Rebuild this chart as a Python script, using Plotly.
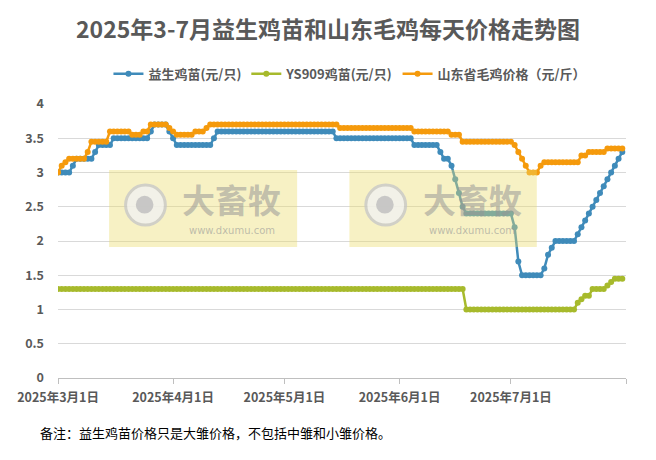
import numpy as np
import pandas as pd
import plotly.graph_objects as go

# daily prices, 2025-03-01 .. 2025-07-31, stored as (value, number of days) runs
blue_vals = [3.0, 3.1, 3.2, 3.3, 3.4, 3.5, 3.6, 3.7, 3.6, 3.5, 3.4, 3.5, 3.6, 3.5, 3.4, 3.3, 3.2, 3.1,
             2.9, 2.7, 2.5, 2.4, 2.2, 1.7, 1.5, 1.6, 1.8, 1.9, 2.0,
             2.1, 2.2, 2.3, 2.4, 2.5, 2.6, 2.7, 2.8, 2.9, 3.0, 3.1, 3.2, 3.3]
blue_days = [4, 1, 5, 1, 4, 10, 1, 4, 1, 1, 10, 1, 32, 21, 7, 1, 2, 1,
             1, 1, 1, 13, 1, 1, 6, 1, 1, 1, 6,
             1, 1, 1, 1, 1, 1, 1, 1, 1, 1, 1, 1, 1]

green_vals = [1.3, 1.0, 1.1, 1.15, 1.2, 1.3, 1.35, 1.4, 1.45]
green_days = [110, 30, 1, 1, 2, 4, 1, 1, 3]

orange_vals = [3.0, 3.1, 3.15, 3.2, 3.3, 3.45, 3.6, 3.55, 3.6, 3.7, 3.65, 3.6, 3.55, 3.6, 3.65, 3.7,
               3.65, 3.6, 3.55, 3.45, 3.4, 3.3, 3.2, 3.1, 3.0, 3.1, 3.15, 3.25, 3.3, 3.35]
orange_days = [1, 1, 1, 5, 1, 5, 6, 3, 2, 5, 1, 1, 5, 3, 1, 35,
               20, 10, 3, 14, 1, 1, 1, 1, 3, 1, 10, 2, 5, 5]

series_names = ["益生鸡苗(元/只)", "YS909鸡苗(元/只)", "山东省毛鸡价格（元/斤）"]
series_colors = ["#3F8BBA", "#A7BA2C", "#F59A0C"]

tick_dates = ["2025-03-01", "2025-04-01", "2025-05-01", "2025-06-01", "2025-07-01", "2025-08-01"]
tick_labels = ["2025年3月1日", "2025年4月1日", "2025年5月1日", "2025年6月1日", "2025年7月1日", ""]

dates = pd.date_range("2025-03-01", periods=sum(blue_days), freq="D")
blue = np.repeat(blue_vals, blue_days)
green = np.repeat(green_vals, green_days)
orange = np.repeat(orange_vals, orange_days)

FONT = "Noto Sans CJK SC"
GREY = "#595959"

fig = go.Figure()
for name, ys, color in zip(series_names, [blue, green, orange], series_colors):
    fig.add_trace(go.Scatter(
        x=dates, y=ys, name=name, mode="lines+markers",
        line=dict(color=color, width=2.5),
        marker=dict(color=color, size=6),
    ))

# watermark boxes (semi-transparent, drawn above the lines)
shapes = []
annotations = []
for x0, x1 in [(0.090, 0.421), (0.513, 0.843)]:
    shapes.append(dict(type="rect", xref="paper", yref="paper", x0=x0, x1=x1, y0=0.478, y1=0.759,
                       fillcolor="#EBDC6B", opacity=0.4, line=dict(width=0), layer="above"))
    cx = x0 + 0.064
    shapes.append(dict(type="circle", xref="paper", yref="paper", x0=cx - 0.035, x1=cx + 0.035,
                       y0=0.558, y1=0.704, fillcolor="#F2F2F2", opacity=0.8,
                       line=dict(color="#C8C8C8", width=3), layer="above"))
    shapes.append(dict(type="circle", xref="paper", yref="paper", x0=cx - 0.017, x1=cx + 0.014,
                       y0=0.600, y1=0.665, fillcolor="#BDBDBD", opacity=0.8,
                       line=dict(width=0), layer="above"))
    annotations.append(dict(xref="paper", yref="paper", x=x0 + 0.216, y=0.655, text="<b>大畜牧</b>",
                            xanchor="center", yanchor="middle", showarrow=False, borderpad=0,
                            font=dict(family=FONT, size=33, color="rgba(150,150,150,0.55)")))
    annotations.append(dict(xref="paper", yref="paper", x=x0 + 0.216, y=0.540, text="www.dxumu.com",
                            xanchor="center", yanchor="middle", showarrow=False, borderpad=0,
                            font=dict(family="DejaVu Sans", size=10, color="rgba(150,150,150,0.6)")))

annotations.append(dict(xref="paper", yref="paper", x=-0.035, y=-0.200, xanchor="left", yanchor="middle",
                        text="备注：益生鸡苗价格只是大雏价格，不包括中雏和小雏价格。", showarrow=False,
                        font=dict(family=FONT, size=13, color="#000000")))

fig.update_layout(
    width=656, height=460,
    margin=dict(l=58, r=30, t=104, b=82, autoexpand=False),
    paper_bgcolor="white", plot_bgcolor="white",
    font=dict(family=FONT, color=GREY),
    title=dict(text="<b>2025年3-7月益生鸡苗和山东毛鸡每天价格走势图</b>", x=0.5, xanchor="center",
               y=0.935, yanchor="middle", font=dict(size=23, color=GREY)),
    legend=dict(orientation="h", x=0.514, xanchor="center", y=1.11, yanchor="middle",
                font=dict(size=13, color=GREY, weight="bold"), itemwidth=30, tracegroupgap=0),
    shapes=shapes, annotations=annotations,
    xaxis=dict(range=["2025-03-01", "2025-08-01"], tickvals=tick_dates, ticktext=tick_labels,
               showgrid=False, showline=True, linecolor="#BFBFBF", linewidth=1,
               ticks="outside", ticklen=5, tickcolor="#BFBFBF", automargin=False, ticklabelstandoff=3,
               tickfont=dict(size=12.5, color=GREY, family=FONT, weight="bold"), zeroline=False),
    yaxis=dict(range=[0, 4], dtick=0.5, showgrid=True, gridcolor="#D9D9D9", gridwidth=1,
               zeroline=False, showline=False, ticks="", ticklabelstandoff=13, automargin=False,
               tickfont=dict(size=12.5, color=GREY, family=FONT, weight="bold")),
)

fig.write_html("out.html", config={"displayModeBar": False},
               post_script="document.body.style.margin='0px';")
